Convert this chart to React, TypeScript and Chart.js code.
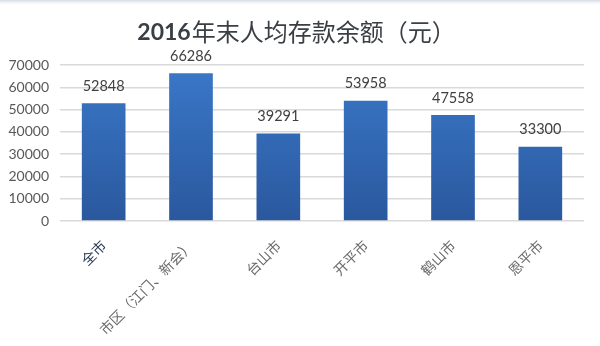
import React, { useEffect, useRef } from "react";
import { Chart, registerables } from "chart.js";

Chart.register(...registerables);

const categories = ["全市", "市区（江门、新会）", "台山市", "开平市", "鹤山市", "恩平市"];
const values = [52848, 66286, 39291, 53958, 47558, 33300];
const yTicks = [0, 10000, 20000, 30000, 40000, 50000, 60000, 70000];
const titleBold = "2016";
const titleRest = "年末人均存款余额（元）";

const NUM_FONT = "Lato, 'Noto Sans', sans-serif";
const CJK_FONT = "'Noto Sans CJK SC', 'Noto Sans', sans-serif";

export default function App() {
  const ref = useRef<HTMLCanvasElement | null>(null);
  useEffect(() => {
    document.body.style.margin = "0";
    const canvas = ref.current!;
    const decor = {
      id: "decor",
      beforeDraw(chart: any) {
        const { ctx } = chart;
        ctx.save();
        ctx.fillStyle = "#ffffff";
        ctx.fillRect(0, 0, chart.width, chart.height);
        const g = ctx.createLinearGradient(0, 0, 0, 6);
        g.addColorStop(0, "#d4dbe4");
        g.addColorStop(1, "rgba(255,255,255,0)");
        ctx.fillStyle = g;
        ctx.fillRect(0, 0, chart.width, 6);
        ctx.restore();
      },
      afterDraw(chart: any) {
        const { ctx } = chart;
        ctx.save();
        ctx.textBaseline = "middle";
        ctx.fillStyle = "#3a3f45";
        ctx.font = `bold 23px ${NUM_FONT}`;
        const w1 = ctx.measureText(titleBold).width;
        ctx.font = `24px ${CJK_FONT}`;
        const w2 = ctx.measureText(titleRest).width;
        const x0 = 296 - (w1 + w2) / 2;
        ctx.font = `bold 23px ${NUM_FONT}`;
        ctx.textAlign = "left";
        ctx.fillText(titleBold, x0, 33);
        ctx.font = `24px ${CJK_FONT}`;
        ctx.fillText(titleRest, x0 + w1 + 1, 32);
        // data labels
        const meta = chart.getDatasetMeta(0);
        ctx.font = `14.5px ${NUM_FONT}`;
        ctx.fillStyle = "#404040";
        ctx.textAlign = "center";
        meta.data.forEach((bar: any, i: number) => {
          ctx.fillText(String(values[i]), bar.x, bar.y - 17);
        });
        ctx.restore();
      },
    };
    const chart = new Chart(canvas, {
      type: "bar",
      data: {
        labels: categories,
        datasets: [
          {
            data: values,
            backgroundColor: (c: any) => {
              const area = c.chart.chartArea;
              if (!area) return "#3570bf";
              const g = c.chart.ctx.createLinearGradient(0, area.top, 0, area.bottom);
              g.addColorStop(0, "#3a78c8");
              g.addColorStop(1, "#2a589e");
              return g;
            },
            borderWidth: 0,
            barPercentage: 0.5,
            categoryPercentage: 1,
          },
        ],
      },
      options: {
        animation: false,
        responsive: false,
        maintainAspectRatio: false,
        layout: { padding: { top: 65, right: 16, left: 0, bottom: 0 } },
        plugins: { legend: { display: false }, tooltip: { enabled: false }, title: { display: false } },
        scales: {
          x: {
            grid: { display: false, drawTicks: false },
            border: { display: false },
            ticks: {
              minRotation: 45,
              maxRotation: 45,
              autoSkip: false,
              padding: 16,
              color: categories.map((_, i) => (i === 0 ? "#2b3a55" : "#6a6a6a")),
              font: { family: CJK_FONT, size: 14 },
            },
            afterFit: (s: any) => {
              s.height = 125;
            },
          },
          y: {
            min: 0,
            max: 70000,
            afterBuildTicks: (s: any) => {
              s.ticks = yTicks.map((v) => ({ value: v }));
            },
            grid: { color: "#d9d9d9", lineWidth: 1.5, drawTicks: false },
            border: { display: false },
            ticks: {
              padding: 11,
              color: "#595959",
              font: { family: NUM_FONT, size: 14 },
              callback: (v: any) => String(v),
            },
            afterFit: (s: any) => {
              s.width = 60;
            },
          },
        },
      },
      plugins: [decor],
    } as any);
    return () => chart.destroy();
  }, []);
  return (
    <div style={{ position: "fixed", left: 0, top: 0, width: 600, height: 346 }}>
      <canvas ref={ref} width={600} height={346} style={{ width: 600, height: 346 }} />
    </div>
  );
}
